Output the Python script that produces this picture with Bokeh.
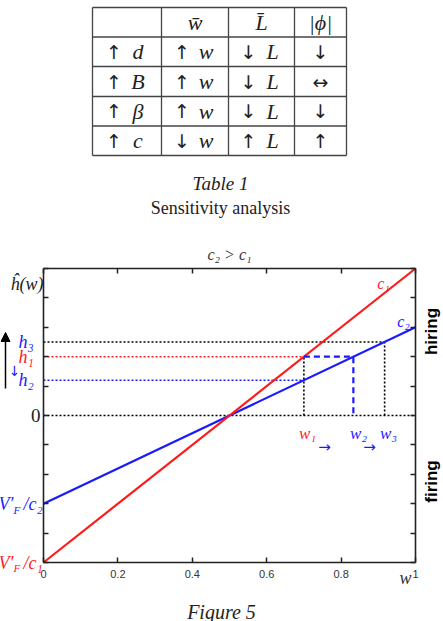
from bokeh.plotting import figure
from bokeh.models import (Range1d, LinearAxis, FixedTicker, Label, Arrow, NormalHead,
                          ColumnDataSource, CustomLabelingPolicy)
from bokeh.layouts import column
from bokeh.embed import file_html
from bokeh.resources import INLINE

# ---------------- data ----------------
table_header = ["", "w\u0304", "L\u0304", "|\u03d5|"]
table_row_d = ["\u2191 d", "\u2191 w", "\u2193 L", "\u2193"]
table_row_B = ["\u2191 B", "\u2191 w", "\u2193 L", "\u2194"]
table_row_beta = ["\u2191 \u03b2", "\u2191 w", "\u2193 L", "\u2193"]
table_row_c = ["\u2191 c", "\u2193 w", "\u2191 L", "\u2191"]

wage = [0.0, 1.0]
h_c1 = [-1.0, 1.0]
h_c2 = [-0.6, 0.6]
level_names = ["h\u2081", "h\u2082", "h\u2083"]
level_values = [0.40, 0.24, 0.50]
w_names = ["w\u2081", "w\u2082", "w\u2083"]
w_values = [0.70, 0.833, 0.917]
x_ticks = [0.0, 0.2, 0.4, 0.6, 0.8, 1.0]
x_tick_labels = ["0", "0.2", "0.4", "0.6", "0.8", "1"]
y_ticks = [-1.0, -0.8, -0.6, -0.4, -0.2, 0.0, 0.2, 0.4, 0.6, 0.8, 1.0]

RED = "#ff1a1a"
BLUE = "#1a1aff"
SERIF = "Liberation Serif"
SANS = "Liberation Sans"
ARROWFONT = "DejaVu Sans"
INK = "#222222"

# ---------------- table figure ----------------
TW, TH = 443, 240
t = figure(width=TW, height=TH, x_range=Range1d(0, TW), y_range=Range1d(TH, 0),
           toolbar_location=None, output_backend="svg", min_border=0)
t.axis.visible = False
t.grid.visible = False
t.outline_line_color = None
t.background_fill_color = "white"
t.border_fill_color = "white"

col_edges = [92, 161, 228, 294, 346]
row_edges = [7, 36.5, 66, 96, 125.5, 155]
t.segment(x0=col_edges, y0=[row_edges[0]] * len(col_edges), x1=col_edges,
          y1=[row_edges[-1]] * len(col_edges), line_color="#444444", line_width=1.3)
t.segment(x0=[col_edges[0]] * len(row_edges), y0=row_edges, x1=[col_edges[-1]] * len(row_edges),
          y1=row_edges, line_color="#444444", line_width=1.3)

ARROWS = {"\u2191", "\u2193", "\u2194"}
rows = [table_header, table_row_d, table_row_B, table_row_beta, table_row_c]
ax_, ay_, at_ = [], [], []   # arrows
lx_, ly_, lt_ = [], [], []   # letters
for r, row in enumerate(rows):
    for c, txt in enumerate(row):
        if not txt:
            continue
        xc = (col_edges[c] + col_edges[c + 1]) / 2
        yc = (row_edges[r] + row_edges[r + 1]) / 2
        parts = txt.split(" ")
        if len(parts) == 2:
            ax_.append(xc - 13); ay_.append(yc); at_.append(parts[0])
            lx_.append(xc + 11); ly_.append(yc); lt_.append(parts[1])
        elif txt in ARROWS:
            ax_.append(xc); ay_.append(yc); at_.append(txt)
        else:
            lx_.append(xc); ly_.append(yc); lt_.append(txt)
t.text(x="x", y="y", text="text", source=ColumnDataSource(dict(x=ax_, y=ay_, text=at_)),
       text_font={"value": ARROWFONT}, text_font_size="19px", text_align="center",
       text_baseline="middle", text_color=INK)
t.text(x="x", y="y", text="text", source=ColumnDataSource(dict(x=lx_, y=ly_, text=lt_)),
       text_font={"value": SERIF}, text_font_style="italic", text_font_size="22px",
       text_align="center", text_baseline="middle", text_color=INK)

t.add_layout(Label(x=220, y=183, text="Table 1", text_font=SERIF, text_font_style="italic",
                   text_font_size="19px", text_align="center", text_baseline="middle",
                   text_color=INK))
t.add_layout(Label(x=220, y=207, text="Sensitivity analysis", text_font=SERIF,
                   text_font_size="18px", text_align="center", text_baseline="middle",
                   text_color=INK))

# ---------------- chart figure ----------------
FL, FR, FT, FB = 43, 415, 268, 562   # plot box in page pixels
PH = 621 - TH


def px2x(px):
    return (px - FL) / (FR - FL)


def py2y(py):
    return ((FT + FB) / 2 - py) / ((FB - FT) / 2)


p = figure(width=443, height=PH, x_range=Range1d(px2x(0), px2x(443)),
           y_range=Range1d(py2y(621), py2y(TH)),
           toolbar_location=None, output_backend="svg", min_border=0,
           x_axis_location=None, y_axis_location=None)
p.grid.visible = False
p.background_fill_color = "white"
p.border_fill_color = "white"
p.outline_line_color = None

no_labels = CustomLabelingPolicy(code="return []")
ax_below = LinearAxis(fixed_location=h_c1[0], bounds=(wage[0], wage[1]),
                      ticker=FixedTicker(ticks=x_ticks))
ax_above = LinearAxis(fixed_location=h_c1[1], bounds=(wage[0], wage[1]),
                      ticker=FixedTicker(ticks=x_ticks), major_label_policy=no_labels)
ax_left = LinearAxis(fixed_location=wage[0], bounds=(h_c1[0], h_c1[1]),
                     ticker=FixedTicker(ticks=y_ticks), major_label_policy=no_labels)
ax_right = LinearAxis(fixed_location=wage[1], bounds=(h_c1[0], h_c1[1]),
                      ticker=FixedTicker(ticks=y_ticks), major_label_policy=no_labels)
p.add_layout(ax_below, "below")
p.add_layout(ax_above, "above")
p.add_layout(ax_left, "left")
p.add_layout(ax_right, "right")
for ax in (ax_below, ax_above, ax_left, ax_right):
    ax.major_tick_in = 5
    ax.major_tick_out = 0
    ax.minor_tick_line_color = None
    ax.axis_line_color = INK
    ax.axis_line_width = 1.6
    ax.major_tick_line_color = INK
    ax.major_tick_line_width = 1.5
ax_below.major_label_text_font_size = "11px"
ax_below.major_label_text_font = SANS
ax_below.major_label_text_color = "#333333"
ax_below.major_label_standoff = 7
ax_below.major_label_overrides = {v: s for v, s in zip(x_ticks, x_tick_labels)}

h1, h2, h3 = level_values
w1, w2, w3 = w_values
dot = "2 2"
# dotted reference lines
p.line(x=[wage[0], wage[1]], y=[0, 0], line_color="black", line_dash=dot, line_width=1.6)
p.line(x=[wage[0], w3], y=[h3, h3], line_color="black", line_dash=dot, line_width=1.6)
p.line(x=[wage[0], w1], y=[h1, h1], line_color=RED, line_dash=dot, line_width=1.6)
p.line(x=[wage[0], w1], y=[h2, h2], line_color=BLUE, line_dash=dot, line_width=1.6)
p.line(x=[w1, w1], y=[0, h1], line_color="black", line_dash=dot, line_width=1.6)
p.line(x=[w3, w3], y=[0, h3], line_color="black", line_dash=dot, line_width=1.6)
# main lines
p.line(x=wage, y=h_c2, line_color=BLUE, line_width=2.2)
p.line(x=wage, y=h_c1, line_color=RED, line_width=2.2)
# dashed shift
p.line(x=[w1, w2, w2], y=[h1, h1, 0], line_color=BLUE, line_dash="6 4", line_width=2.2)


def lab(x, y, text, color="black", size=17, style="italic", font=SERIF, align="center",
        baseline="middle", angle=0.0):
    p.add_layout(Label(x=x, y=y, text=text, text_color=color, text_font_size=f"{size}px",
                       text_font_style=style, text_font=font, text_align=align,
                       text_baseline=baseline, angle=angle))


lab(px2x(229), py2y(254), "c\u2082 > c\u2081", color="#333333", size=16)
lab(px2x(43), py2y(283), "\u0125(w)", color=INK, size=18, align="right")
lab(px2x(18), h3, level_names[2], color=BLUE, size=18, align="left")
lab(px2x(18), h1, level_names[0], color=RED, size=18, align="left")
lab(px2x(18), h2, level_names[1], color=BLUE, size=18, align="left")
lab(px2x(14), py2y(370), "\u2193", color=BLUE, size=14, style="normal", font=ARROWFONT)
lab(px2x(40), 0.0, "0", color=INK, size=19, style="normal", align="right")
p.add_layout(Arrow(end=NormalHead(size=9, fill_color="black", line_color="black"),
                   x_start=px2x(5), y_start=py2y(388), x_end=px2x(5), y_end=py2y(332),
                   line_color="black", line_width=1.5))

# intercept labels  V'_F / c
for yv, col, sub in [(h_c2[0], BLUE, "c\u2082"), (h_c1[0], RED, "c\u2081")]:
    lab(px2x(13), yv, "V\u2032", color=col, size=18, align="right")
    lab(px2x(13), yv - 0.04, "F", color=col, size=11, align="left")
    lab(px2x(23), yv, "/" + sub, color=col, size=18, align="left")

lab(px2x(383), py2y(283), "c\u2081", color=RED, size=16)
lab(px2x(403), py2y(321), "c\u2082", color=BLUE, size=16)

lab(px2x(307), py2y(433), w_names[0], color=RED, size=17)
lab(px2x(358), py2y(433), w_names[1], color=BLUE, size=17)
lab(px2x(388), py2y(433), w_names[2], color=BLUE, size=17)
lab(px2x(324), py2y(446), "\u2192", color=BLUE, size=15, style="normal", font=ARROWFONT)
lab(px2x(369), py2y(446), "\u2192", color=BLUE, size=15, style="normal", font=ARROWFONT)

lab(px2x(431), py2y(331), "hiring", color="black", size=17, style="bold", font=SANS, angle=1.5708)
lab(px2x(431), py2y(481), "firing", color="black", size=17, style="bold", font=SANS, angle=1.5708)

lab(px2x(405), py2y(577), "w", color="#333333", size=18)
lab(px2x(221), py2y(611), "Figure 5", color=INK, size=20)

layout = column(t, p, spacing=0)
open("out.html", "w").write(file_html(layout, INLINE))
